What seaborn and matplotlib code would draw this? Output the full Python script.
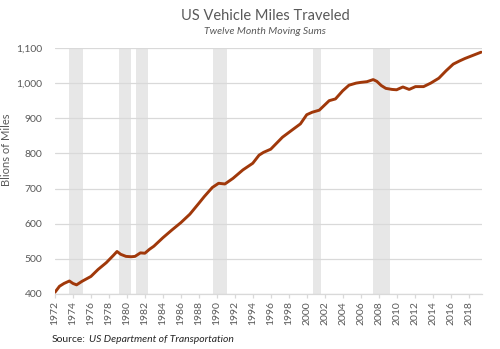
import matplotlib
matplotlib.use("Agg")
import matplotlib.pyplot as plt
import seaborn as sns
import pandas as pd

years = [1972.0, 1972.5, 1973.0, 1973.6, 1974.0, 1974.4, 1975.0, 1975.5, 1976.0, 1976.8,
         1977.7, 1978.5, 1978.9, 1979.3, 1979.9, 1980.5, 1980.9, 1981.5, 1982.0, 1982.5,
         1983.0, 1984.0, 1985.0, 1986.0, 1987.0, 1988.0, 1988.6, 1989.5, 1990.2, 1990.9,
         1991.8, 1992.9, 1994.0, 1994.7, 1995.2, 1996.0, 1997.3, 1998.4, 1999.3, 2000.0,
         2000.6, 2001.4, 2002.5, 2003.2, 2004.0, 2004.7, 2005.5, 2006.0, 2006.7, 2007.4,
         2007.8, 2008.3, 2008.8, 2009.5, 2010.0, 2010.7, 2011.4, 2012.1, 2013.0, 2013.8,
         2014.7, 2015.5, 2016.3, 2017.0, 2017.6, 2018.5, 2019.4]
miles = [405, 422, 430, 437, 430, 426, 436, 443, 450, 470,
         489, 510, 521, 513, 507, 506, 507, 517, 516, 527,
         536, 560, 582, 603, 627, 658, 677, 703, 715, 713,
         729, 753, 772, 795, 803, 812, 846, 867, 884, 910,
         917, 923, 950, 955, 978, 994, 1000, 1002, 1004, 1010,
         1005, 993, 985, 982, 981, 989, 982, 990, 990, 1000,
         1014, 1035, 1054, 1063, 1070, 1079, 1088]

recession_start = [1973.6, 1979.1, 1981.05, 1989.55, 2000.7, 2007.4]
recession_end = [1975.15, 1980.4, 1982.4, 1991.1, 2001.55, 2009.25]

tick_years = list(range(1972, 2019, 2))
y_ticks = [400, 500, 600, 700, 800, 900, 1000, 1100]

title = "US Vehicle Miles Traveled"
subtitle = "Twelve Month Moving Sums"
ylabel = "Blions of Miles"

sns.set_style("white")
plt.rcParams['font.family'] = ['Lato', 'DejaVu Sans']

df = pd.DataFrame({"year": years, "miles": miles})

fig = plt.figure(figsize=(5, 3.49), dpi=100)
ax = fig.add_axes([0.11, 0.1576, 0.854, 0.705])

for s, e in zip(recession_start, recession_end):
    ax.axvspan(s, e, color="#E7E7E7", lw=0, zorder=0)

sns.lineplot(data=df, x="year", y="miles", ax=ax, color="#A0380A", lw=2.1, zorder=3)

ax.set_xlim(1972, 2019.5)
ax.set_ylim(400, 1100)
ax.set_yticks(y_ticks)
ax.set_yticklabels([f"{v:,}" for v in y_ticks], fontsize=7.5, color="#595959")
ax.set_xticks(tick_years)
ax.set_xticklabels([str(y) for y in tick_years], rotation=90, fontsize=7.5, color="#595959")
ax.yaxis.grid(True, color="#D9D9D9", lw=0.9, zorder=1)
ax.set_axisbelow(True)
for side in ["top", "right", "left"]:
    ax.spines[side].set_visible(False)
ax.spines["bottom"].set_color("#D9D9D9")
ax.spines["bottom"].set_linewidth(0.9)
ax.tick_params(axis="x", length=3, color="#D9D9D9", width=0.9, pad=2, bottom=True)
ax.tick_params(axis="y", length=0, pad=9)
ax.set_xlabel("")
ax.set_ylabel(ylabel, fontsize=8, color="#595959")
ax.yaxis.set_label_coords(-0.101, 0.585)

fig.text(0.53, 0.955, title, ha="center", va="center", fontsize=10.5, color="#595959")
fig.text(0.53, 0.91, subtitle, ha="center", va="center", fontsize=7.5, color="#595959", style="italic")
src = fig.text(0.104, 0.028, "Source:", ha="left", va="center", fontsize=7.5, color="#262626")
fig.canvas.draw()
bb = src.get_window_extent(renderer=fig.canvas.get_renderer())
fig.text((bb.x1 + 3) / fig.bbox.width, 0.028, "US Department of Transportation", ha="left",
         va="center", fontsize=7.5, color="#262626", style="italic")

fig.savefig("out.png", dpi=100)
